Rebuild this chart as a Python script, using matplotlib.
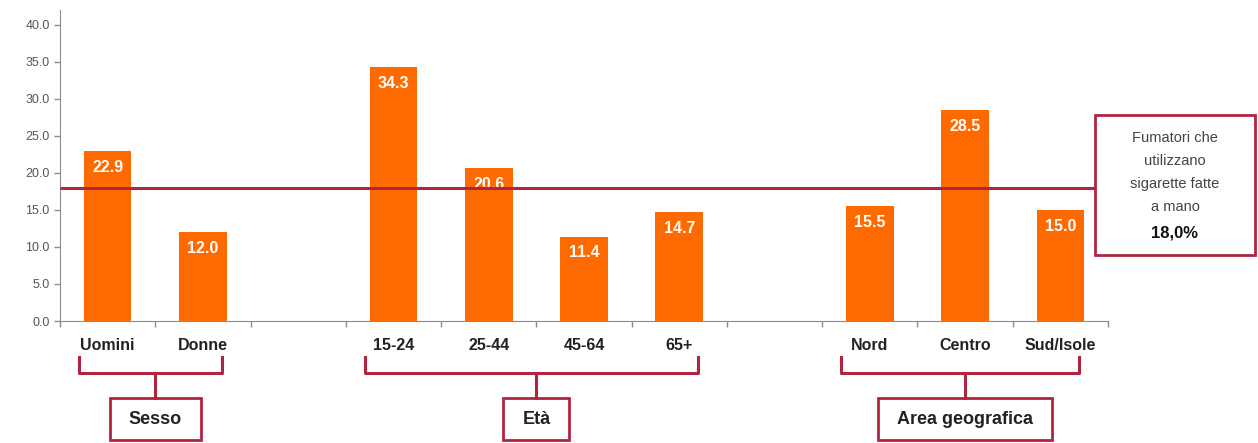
import matplotlib.pyplot as plt
from matplotlib.patches import Rectangle
from matplotlib.transforms import blended_transform_factory

plt.rcParams['font.family'] = ['Liberation Sans', 'DejaVu Sans']

# categories and values (slots 2 and 7 are empty gaps between groups)
labels = ['Uomini', 'Donne', '15-24', '25-44', '45-64', '65+', 'Nord', 'Centro', 'Sud/Isole']
values = [22.9, 12.0, 34.3, 20.6, 11.4, 14.7, 15.5, 28.5, 15.0]
positions = [0, 1, 3, 4, 5, 6, 8, 9, 10]
groups = [('Sesso', 0, 1), ('Età', 3, 6), ('Area geografica', 8, 10)]
avg_value = 18.0
avg_text = ['Fumatori che', 'utilizzano', 'sigarette fatte', 'a mano']
avg_label = '18,0%'

orange = '#ff6a00'
red = '#b22540'
grey = '#8c8c8c'

W, H = 1258, 443
fig = plt.figure(figsize=(W / 100, H / 100), dpi=100)
ax = fig.add_axes([60 / W, 1 - 321 / H, 1048 / W, 311 / H])

ax.bar(positions, values, width=0.5, color=orange, zorder=2)
for x, v in zip(positions, values):
    ax.text(x, v - 1.2, f'{v:.1f}', ha='center', va='top', color='white',
            fontsize=11.5, fontweight='bold', zorder=3)

ax.set_xlim(-0.5, 10.5)
ax.set_ylim(0, 42)
ax.set_yticks([i * 5 for i in range(9)])
ax.set_yticklabels([f'{i * 5:.1f}' for i in range(9)], fontsize=9)
ax.set_xticks([i + 0.5 for i in range(-1, 11)])
ax.set_xticklabels([])
ax.tick_params(axis='both', colors=grey, length=4, width=1)
ax.tick_params(axis='y', labelcolor='#555555')
for s in ['top', 'right']:
    ax.spines[s].set_visible(False)
for s in ['left', 'bottom']:
    ax.spines[s].set_color(grey)

# category labels
trans = blended_transform_factory(ax.transData, fig.transFigure)
for x, lab in zip(positions, labels):
    ax.text(x, 1 - 345 / H, lab, transform=trans, ha='center', va='center',
            fontsize=11.5, fontweight='bold', color='#222222')

# average line and side box
ax.hlines(avg_value, -0.5, 10.36, color=red, linewidth=2.2, zorder=4)
bx0, bx1 = 1095 / W, 1255 / W
by0, by1 = 1 - 255 / H, 1 - 115 / H
fig.patches.append(Rectangle((bx0, by0), bx1 - bx0, by1 - by0, transform=fig.transFigure,
                             facecolor='white', edgecolor=red, linewidth=2))
cx = (bx0 + bx1) / 2
for i, line in enumerate(avg_text):
    fig.text(cx, 1 - (138 + i * 23) / H, line, ha='center', va='center',
             fontsize=10.5, color='#444444')
fig.text(cx, 1 - 233 / H, avg_label, ha='center', va='center',
         fontsize=12, fontweight='bold', color='#111111')

# group braces with boxed names
y_top, y_mid, y_bot = 1 - 357 / H, 1 - 373 / H, 1 - 398 / H
name_texts = []
for name, first, last in groups:
    left, right = first - 0.3, last + 0.2
    mid = (first + last) / 2
    ax.plot([left, left, right, right], [y_top, y_mid, y_mid, y_top], transform=trans,
            color=red, linewidth=2.2, clip_on=False, solid_joinstyle='round')
    ax.plot([mid, mid], [y_mid, y_bot], transform=trans, color=red, linewidth=2.2,
            clip_on=False)
    t = ax.text(mid, 1 - 420 / H, name, transform=trans, ha='center', va='center',
                fontsize=13, fontweight='bold', color='#222222', zorder=5)
    name_texts.append(t)

fig.canvas.draw()
renderer = fig.canvas.get_renderer()
for t in name_texts:
    bb = t.get_window_extent(renderer)
    x0 = (bb.x0 - 19) / W
    x1 = (bb.x1 + 19) / W
    fig.patches.append(Rectangle((x0, 1 - 440 / H), x1 - x0, 42 / H,
                                 transform=fig.transFigure, facecolor='none',
                                 edgecolor=red, linewidth=2, zorder=-1))

fig.savefig('out.png', dpi=100)
